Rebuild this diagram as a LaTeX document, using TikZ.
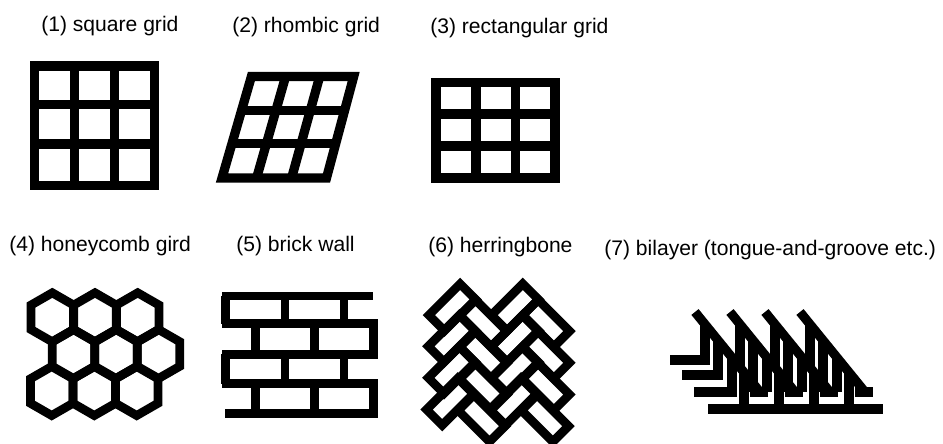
\documentclass[tikz,border=0pt]{standalone}
\usepackage{fontspec}
\setmainfont{Liberation Sans}
\tikzset{
    gridbar/.style={draw=black, line width=0.185cm},
    cellbar/.style={draw=black, line width=0.175cm},
    layerbar/.style={draw=black, line width=0.185cm},
    pattlabel/.style={font=\fontsize{12}{14}\selectfont, anchor=base west, inner sep=0pt, text=black}
}

\begin{document}
\begin{tikzpicture}[x=0.02cm, y=-0.02cm]
    \useasboundingbox (0,0) rectangle (943,443);

    % Labels
    \node[pattlabel] (lblsquare) at (41,31) {(1) square grid};
    \node[pattlabel] (lblrhombic) at (232,32.5) {(2) rhombic grid};
    \node[pattlabel] (lblrect) at (430,33.5) {(3) rectangular grid};
    \node[pattlabel] (lblhoney) at (9,251.5) {(4) honeycomb gird};
    \node[pattlabel] (lblbrick) at (236,251) {(5) brick wall};
    \node[pattlabel] (lblherring) at (428,252) {(6) herringbone};
    \node[pattlabel] (lblbilayer) at (604,255.5) {(7) bilayer (tongue-and-groove etc.)};

    % Square grid
    \draw[gridbar] (34.5,66) rectangle (154.5,185.5);
    \foreach \x in {74.6,114.4} {
        \draw[gridbar] (\x,66) -- (\x,185.5);
    }
    \foreach \y in {104.5,144} {
        \draw[gridbar] (34.5,\y) -- (154.5,\y);
    }

    % Rhombic grid
    \draw[gridbar] (251.4,76.5) -- (353.7,76.5) -- (326.5,178) -- (222,178) -- cycle;
    \foreach \x/\z in {285.6/256.6, 319.7/291.6} {
        \draw[gridbar] (\x,76.5) -- (\z,178);
    }
    \draw[gridbar] (241.5,110.5) -- (343.7,110.5);
    \draw[gridbar] (232,143.5) -- (334,143.5);

    % Rectangular grid
    \draw[gridbar] (436,82.5) rectangle (555,178);
    \foreach \x in {476,515.5} {
        \draw[gridbar] (\x,82.5) -- (\x,178);
    }
    \foreach \y in {114,146} {
        \draw[gridbar] (436,\y) -- (555,\y);
    }

    % Honeycomb
    \foreach \x/\y in {52.3/317.3, 95/317.3, 137.7/317.3, 73.5/354, 116/354, 158.5/354, 51.7/391, 94.3/391, 136.7/391} {
        \draw[cellbar] (\x,\y-24.5) -- ++(21.3,12.25) -- ++(0,24.5) -- ++(-21.3,12.25) -- ++(-21.3,-12.25) -- ++(0,-24.5) -- cycle;
    }

    % Brick wall
    \foreach \a/\b/\y in {222/373/296, 222/377.7/323.7, 222/377.7/354.3, 222/377.7/383.7, 225/378/413.7} {
        \draw[cellbar] (\a,\y) -- (\b,\y);
    }
    \foreach \x/\a/\b in {225.7/296/323.7, 285/296/323.7, 344/296/323.7, 255.3/323.7/354.3, 314.3/323.7/354.3, 373.7/323.7/354.3,
                          225.7/354.3/383.7, 285/354.3/383.7, 344/354.3/383.7, 255.3/383.7/413.7, 314.3/383.7/413.7, 373.7/383.7/413.7} {
        \draw[cellbar] (\x,\a) -- (\x,\b);
    }

    % Herringbone
    \foreach \x/\y in {452.3/307.3, 451.7/338.5, 451.7/370, 450/401.7, 515/307.3, 515/338.5, 515/370, 513.3/401.7} {
        \draw[cellbar, shift={(\x,\y)}, rotate=45] (-22.1,-11.05) rectangle (22.1,11.05);
    }
    \foreach \x/\y in {483.3/323.3, 483.3/355, 483.3/386.7, 481.7/418.3, 546/323.3, 546/355, 546/386.7, 545/418.3} {
        \draw[cellbar, shift={(\x,\y)}, rotate=-45] (-22.1,-11.05) rectangle (22.1,11.05);
    }

    % Bilayer
    \draw[layerbar] (708,409) -- (883,409);
    \foreach \k in {0,35,70,105} {
        \draw[layerbar] (695+\k,312) -- (760+\k,392);
        \draw[layerbar] (750+\k,392) -- (768+\k,392);
        \draw[layerbar] (744+\k,372) -- (744+\k,409);
    }
    \foreach \k in {35,70,105} {
        \draw[layerbar] (705+\k,324) -- (705+\k,366);
        \draw[layerbar] (718+\k,340) -- (718+\k,392);
        \draw[layerbar] (732+\k,358) -- (732+\k,392);
    }
    \draw[layerbar] (705,324) -- (705,360) -- (670,360);
    \draw[layerbar] (718,340) -- (718,375) -- (682,375);
    \draw[layerbar] (732,358) -- (732,392) -- (694,392);
\end{tikzpicture}
\end{document}
